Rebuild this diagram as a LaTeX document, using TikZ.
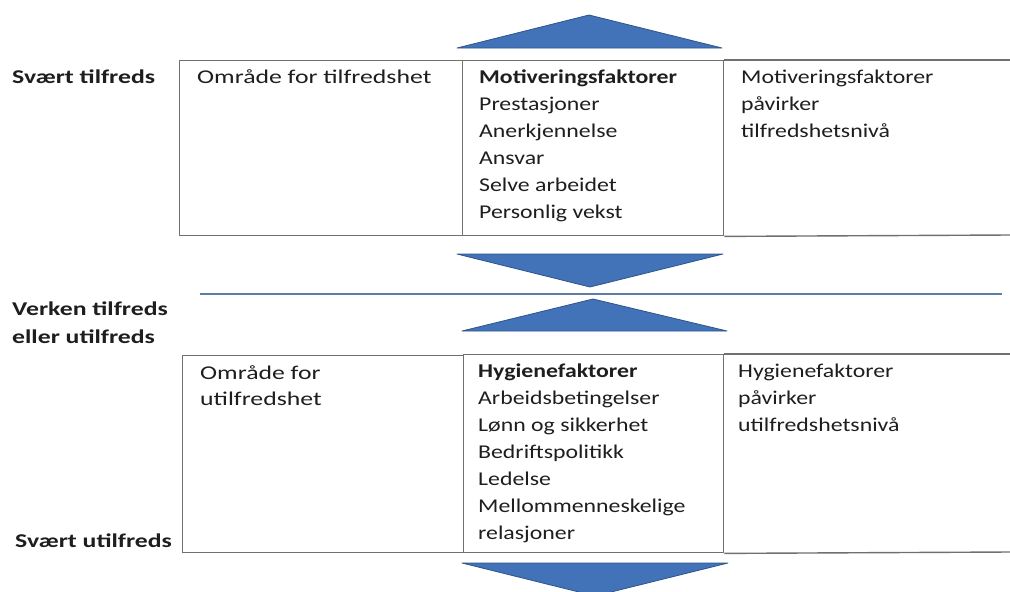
\documentclass[tikz,border=0pt]{standalone}
\usepackage{fontspec}
\setmainfont{Carlito}[FakeStretch=1.22]
\newfontfamily\widefont{Carlito}[FakeStretch=1.32]
\definecolor{triblue}{RGB}{66,114,183}
\definecolor{triedge}{RGB}{46,84,140}
\definecolor{midline}{RGB}{92,126,168}
\definecolor{boxgray}{RGB}{112,112,112}
\definecolor{ink}{RGB}{30,30,30}
\begin{document}
\begin{tikzpicture}[x=1pt,y=-1pt,
  tx/.style={anchor=base west,inner sep=0pt,align=left,text=ink,
    font={\fontsize{19.5}{27}\selectfont}},
  wtx/.style={tx,font={\fontsize{19.5}{26}\selectfont\widefont}},
  hd/.style={tx,font={\fontsize{19.5}{28}\selectfont\widefont\bfseries}},
  cell/.style={draw=boxgray,line width=1.4pt,anchor=north west,inner sep=0pt},
  edge/.style={draw=boxgray,line width=1.4pt},
  tri/.style={fill=triblue,draw=triedge,line width=0.8pt,line join=round},
  divider/.style={draw=midline,line width=1.4pt}]
\useasboundingbox (0,0) rectangle (1010,592);
\fill[white] (0,0) rectangle (1010,592);

% upper band: satisfaction area
\node[cell,minimum width=283pt,minimum height=175pt] (upL) at (179,60) {};
\node[cell,minimum width=261pt,minimum height=175pt] (upM) at (462,60) {};
\coordinate (upRt) at (1010,60);
\coordinate (upRb) at (1010,235);
\draw[edge] (upM.north east) -- (upRt);
\draw[edge] (upM.south east) -- (upRb);

% lower band: dissatisfaction area
\node[cell,minimum width=281pt,minimum height=197pt] (loL) at (182,355) {};
\node[cell,minimum width=260pt,minimum height=198pt] (loM) at (463,354) {};
\coordinate (loRt) at (1010,354);
\coordinate (loRb) at (1010,552);
\draw[edge] (loM.north east) -- (loRt);
\draw[edge] (loM.south east) -- (loRb);

% neutral divider
\coordinate (divA) at (200,294);
\coordinate (divB) at (1002,294);
\draw[divider] (divA) -- (divB);

% direction triangles
\path[tri] (457,48) -- (589,15) -- (722,48) -- cycle;
\path[tri] (457,254) -- (723,254) -- (590,287) -- cycle;
\path[tri] (462,331) -- (593,299) -- (727,331) -- cycle;
\path[tri] (462,563) -- (728,563) -- (595,596) -- cycle;

% scale labels (anchored at the baseline of the last line)
\node[hd] (topLbl) at (12,83) {Svært tilfreds};
\node[hd] (midLbl) at (12,343) {Verken tilfreds\\eller utilfreds};
\node[hd] (botLbl) at (15,547) {Svært utilfreds};

% upper band texts
\node[wtx] (upArea) at (197,83) {Område for tilfredshet};
\node[tx] (upList) at (479,218) {\textbf{Motiveringsfaktorer}\\Prestasjoner\\Anerkjennelse\\Ansvar\\Selve arbeidet\\Personlig vekst};
\node[tx] (upNote) at (741,137) {Motiveringsfaktorer\\påvirker\\tilfredshetsnivå};

% lower band texts
\node[wtx] (loArea) at (200,405) {Område for\\utilfredshet};
\node[tx] (loList) at (478,539) {\textbf{Hygienefaktorer}\\Arbeidsbetingelser\\Lønn og sikkerhet\\Bedriftspolitikk\\Ledelse\\Mellommenneskelige\\relasjoner};
\node[tx] (loNote) at (738,431) {Hygienefaktorer\\påvirker\\utilfredshetsnivå};
\end{tikzpicture}
\end{document}
